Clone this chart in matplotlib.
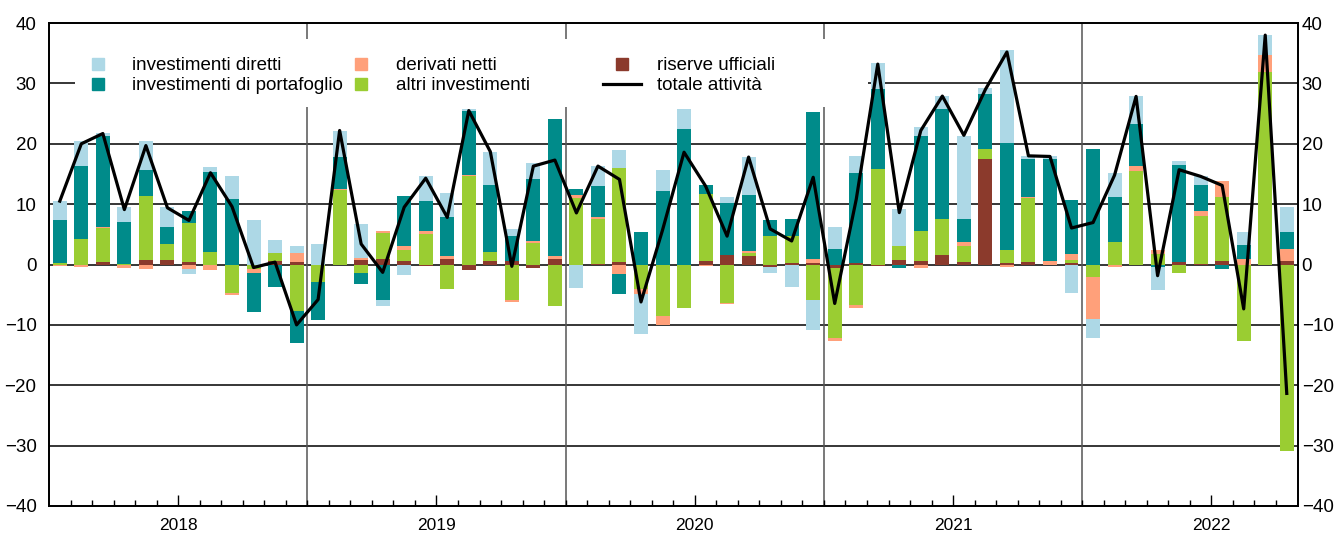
import numpy as np
import matplotlib.pyplot as plt
from matplotlib.lines import Line2D
from matplotlib.patches import Rectangle
from matplotlib.legend import Legend

plt.rcParams["font.family"] = ["Liberation Sans", "DejaVu Sans"]

# monthly, Jan 2018 - Oct 2022
years = ["2018", "2019", "2020", "2021", "2022"]

diretti = [3.2, 4.1, 0.5, 2.5, 4.8, 3.3, -0.8, 0.8, 3.9, 7.35, 2.2, 1.1,
           3.4, 4.4, 5.6, -0.9, -1.8, 4.1, 3.9, 0.4, 5.6, 1.3, 2.75, 0.0,
           -3.9, 3.3, 3.05, -6.6, 3.4, 3.4, 0.0, 1.0, 6.35, -1.0, -3.7, -5.0,
           3.6, 2.85, 4.3, 6.05, 1.4, 2.15, 13.85, 0.95, 15.5, 0.45, 0.5, -4.7,
           -3.2, 3.95, 4.7, -3.85, 0.6, 1.6, 0.0, 2.15, 3.3, 4.1]
portafoglio = [7.2, 12.0, 15.0, 7.0, 4.3, 2.7, 2.05, 13.3, 10.8, -6.4, -3.7, -5.25,
               -6.3, 5.25, -1.9, -5.9, 8.3, 5.0, 6.5, 10.6, 11.05, 4.0, 10.2, 22.7,
               0.95, 5.2, -3.4, 5.4, 12.2, 22.4, 1.65, 8.75, 9.2, 2.6, 2.8, 24.4,
               2.6, 14.8, 13.35, -0.55, 15.8, 18.1, 3.8, 9.05, 17.7, 6.3, 16.9, 9.05,
               19.2, 7.6, 6.9, -0.4, 16.1, 4.25, -0.7, 2.25, 0.0, 2.8]
derivati = [-0.2, -0.4, 0.2, -0.4, -0.7, 0.0, -0.7, -0.9, -0.4, -0.6, 0.0, 1.5,
            0.0, 0.15, 0.3, 0.3, 0.55, 0.4, 0.45, 0.15, 0.0, -0.45, 0.3, 0.55,
            0.55, 0.2, -1.5, -0.95, -1.5, 0.0, -0.3, -0.2, 0.3, 0.0, 0.0, 0.55,
            -0.4, -0.4, 0.0, 0.0, -0.55, 0.0, 0.7, 0.0, -0.45, 0.2, 0.5, 0.95,
            -7.05, -0.4, 0.75, 0.7, 0.0, 0.85, 2.65, 0.95, 2.8, 2.1]
altri = [0.2, 4.3, 5.6, 0.1, 10.7, 2.65, 6.35, 2.0, -4.7, -0.8, 1.4, -7.7,
         -2.9, 12.4, -1.4, 4.3, 1.8, 5.1, -4.0, 14.65, 1.5, -5.8, 3.6, -6.8,
         10.95, 7.5, 15.5, -4.0, -8.45, -7.2, 11.1, -6.35, 0.55, 4.7, 4.5, -5.8,
         -11.6, -6.75, 15.8, 2.4, 4.95, 6.1, 2.6, 1.7, 2.1, 10.55, 0.0, 0.45,
         -2.0, 3.65, 15.55, 1.7, -1.4, 7.9, 10.6, -12.7, 31.9, -30.9]
riserve = [0.0, 0.0, 0.45, -0.1, 0.7, 0.8, 0.45, 0.0, 0.0, 0.0, 0.5, 0.4,
           0.0, 0.0, 0.8, 0.95, 0.65, -0.3, 0.95, -0.85, 0.55, 0.65, -0.55, 0.85,
           0.0, 0.1, 0.45, 0.0, 0.0, 0.0, 0.5, 1.5, 1.4, -0.4, 0.3, 0.3,
           -0.65, 0.3, -0.3, 0.7, 0.55, 1.5, 0.4, 17.5, 0.3, 0.45, 0.0, 0.3,
           0.0, 0.0, 0.0, 0.0, 0.4, 0.1, 0.55, 0.0, 0.0, 0.55]
totale = [10.5, 20.0, 21.7, 9.1, 19.7, 9.4, 7.3, 15.2, 9.6, -0.5, 0.4, -10.0,
          -5.8, 22.2, 3.4, -1.3, 9.5, 14.3, 7.8, 25.5, 18.7, -0.3, 16.3, 17.3,
          8.55, 16.3, 14.1, -6.2, 5.7, 18.6, 13.0, 4.7, 17.8, 5.9, 3.9, 14.45,
          -6.45, 10.8, 33.2, 8.6, 22.2, 27.9, 21.4, 29.0, 35.2, 18.0, 17.9, 6.05,
          6.95, 14.8, 27.85, -1.85, 15.7, 14.6, 13.1, -7.35, 38.0, -21.35]

# stacking order from zero outwards
stack = [
    (riserve, "#8b3a2c", "riserve ufficiali"),
    (altri, "#9acd32", "altri investimenti"),
    (derivati, "#ffa07a", "derivati netti"),
    (portafoglio, "#008b8a", "investimenti di portafoglio"),
    (diretti, "#add8e6", "investimenti diretti"),
]
colors = {lab: c for _, c, lab in stack}

n = len(totale)
x = np.arange(n)

fig = plt.figure(figsize=(13.36, 5.36), dpi=100)
ax = fig.add_axes([0.0367, 0.056, 0.9345, 0.901])

for v in range(-30, 40, 10):
    ax.axhline(v, color="black", linewidth=1.1, zorder=1)
for b in [11.5, 23.5, 35.5, 47.5]:
    ax.axvline(b, color="#555555", linewidth=1.1, zorder=1)

pos = np.zeros(n)
neg = np.zeros(n)
for vals, color, lab in stack:
    v = np.array(vals)
    bottom = np.where(v >= 0, pos, neg)
    ax.bar(x, v, 0.65, bottom=bottom, color=color, linewidth=0, zorder=2)
    pos += np.where(v >= 0, v, 0)
    neg += np.where(v < 0, v, 0)

# white box behind the legend (hides gridlines)
ax.add_patch(Rectangle((0.0208, 0.826), 0.635, 0.141, transform=ax.transAxes,
                       facecolor="white", edgecolor="none", zorder=2.5))

ax.plot(x, totale, color="black", linewidth=2.3, zorder=3)

ax.set_xlim(-0.5, n - 0.5)
ax.set_ylim(-40, 40)
ax.set_yticks(range(-40, 41, 10))
ax.tick_params(axis="y", length=0, labelsize=13.5, pad=9)

ax2 = ax.twinx()
ax2.set_ylim(-40, 40)
ax2.set_yticks(range(-40, 41, 10))
ax2.tick_params(axis="y", length=0, labelsize=13.5, pad=3)

ax.set_xticks([5.5, 17.5, 29.5, 41.5, 53.5])
ax.set_xticklabels(years)
ax.set_xticks(np.arange(0.5, n - 1, 1.0), minor=True)
ax.tick_params(axis="x", which="major", direction="in", length=8, width=1, labelsize=12.5, pad=9)
ax.tick_params(axis="x", which="minor", direction="in", length=4, width=1)
for a in (ax, ax2):
    for s in a.spines.values():
        s.set_linewidth(1.3)


def sq(c):
    return Line2D([], [], marker="s", linestyle="none", markersize=8.5,
                  markerfacecolor=c, markeredgecolor=c)


cols = [
    (0.024, ["investimenti diretti", "investimenti di portafoglio"]),
    (0.235, ["derivati netti", "altri investimenti"]),
    (0.444, ["riserve ufficiali", "totale attività"]),
]
for xa, labels in cols:
    handles = []
    for lab in labels:
        if lab == "totale attività":
            handles.append(Line2D([], [], color="black", linewidth=2.3))
        else:
            handles.append(sq(colors[lab]))
    leg = Legend(ax, handles, labels, loc="upper left", bbox_to_anchor=(xa, 0.929),
                 frameon=False, fontsize=13.5, handlelength=2.0, handletextpad=0.85,
                 labelspacing=0.15, borderpad=0, borderaxespad=0)
    leg.set_zorder(5)
    ax.add_artist(leg)

fig.savefig("out.png", dpi=100)
